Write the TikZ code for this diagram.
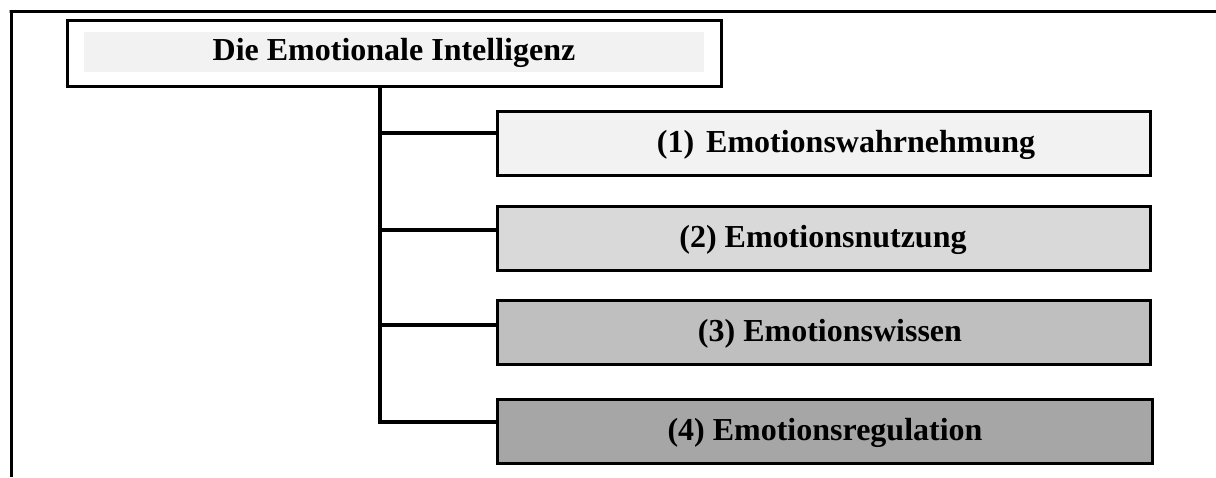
\documentclass[tikz,border=0pt]{standalone}
\usepackage{fontspec}
\setmainfont{Liberation Serif}
\begin{document}
\begin{tikzpicture}[x=1pt,y=-1pt,
  frame/.style={line width=3pt},
  conn/.style={line width=4.5pt},
  catbox/.style={draw=black,line width=3pt,minimum width=653pt,minimum height=64pt,inner sep=0pt},
  lbl/.style={anchor=base,inner sep=0pt,font=\fontsize{32}{38}\selectfont\bfseries},
]
\useasboundingbox (0,0) rectangle (1216,477);
% outer frame (top and left)
\draw[frame] (1216,11) -- (9.5,11) -- (11,11) -- (11,477);
% title
\node[draw=black,line width=3pt,fill=white,minimum width=654pt,minimum height=66pt,inner sep=0pt] (title) at (394,53) {};
\node[fill=black!5,minimum width=620pt,minimum height=40pt,inner sep=0pt] (titlefill) at (394,52) {};
\node[lbl] (titletext) at (394,60) {Die Emotionale Intelligenz};
% boxes
\node[catbox,fill=black!5] (b1) at (823.5,143) {};
\node[catbox,fill=black!15] (b2) at (823.5,238) {};
\node[catbox,fill=black!25] (b3) at (823.5,332.5) {};
\node[catbox,fill=black!35,minimum width=655pt] (b4) at (824.5,431.5) {};
\node[lbl] (t1) at (846,152) {(1)\hspace{12pt}Emotionswahrnehmung};
\node[lbl] (t2) at (823,247) {(2) Emotionsnutzung};
\node[lbl] (t3) at (830,341) {(3) Emotionswissen};
\node[lbl] (t4) at (825,440) {(4) Emotionsregulation};
% connectors
\coordinate (trunk) at (380,0);
\draw[conn] (trunk |- title.south) -- (trunk |- 0,422) -- ([yshift=9.5pt]b4.west);
\draw[conn] (trunk |- 0,133) -- ([yshift=10pt]b1.west);
\draw[conn] (trunk |- 0,230) -- ([yshift=8pt]b2.west);
\draw[conn] (trunk |- 0,325) -- ([yshift=7.5pt]b3.west);
\end{tikzpicture}
\end{document}
